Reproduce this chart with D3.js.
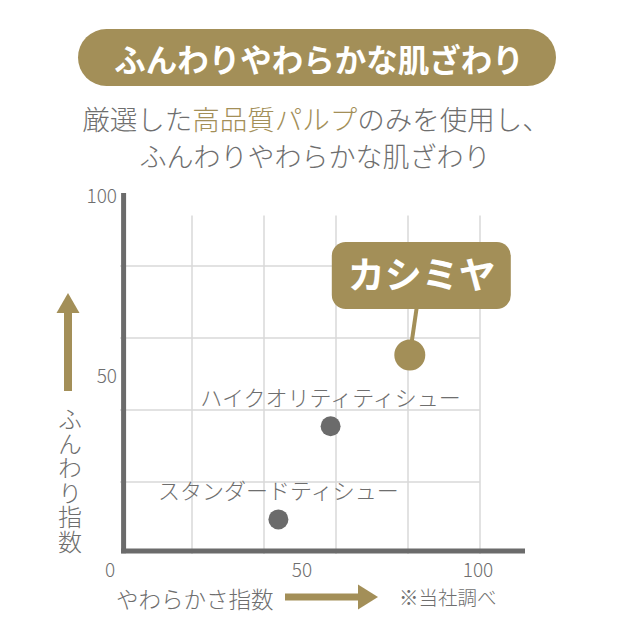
<!DOCTYPE html>
<html><head><meta charset="utf-8">
<script src="https://cdn.jsdelivr.net/npm/d3@7"></script>
<style>html,body{margin:0;padding:0;background:#fff;}svg{display:block;font-family:"Noto Sans CJK JP","Noto Sans",sans-serif;}</style>
</head><body>
<svg id="c" width="640" height="640"></svg>
<script>
const title = "ふんわりやわらかな肌ざわり";
const subtitle1 = [["厳選した", "normal"], ["高品質パルプ", "accent"], ["のみを使用し、", "normal"]];
const subtitle2 = "ふんわりやわらかな肌ざわり";
const xTicks = [0, 50, 100];
const yTicks = [50, 100];
const gridX = [20, 40, 60, 80, 100];
const gridY = [20, 40, 60, 80];
const products = ["カシミヤ", "ハイクオリティティシュー", "スタンダードティシュー"];
const softness = [80.5, 58.5, 44];
const fluffiness = [55.3, 35.5, 9.6];
const highlight = [true, false, false];
const xLabel = "やわらかさ指数";
const yLabel = "ふんわり指数";
const note = "※当社調べ";

const gold = "#a38f58", gray = "#6b6b6b", textGray = "#6e6e6e", gridC = "#d9d9d9";
const svg = d3.select("#c");
const x = d3.scaleLinear().domain([0, 100]).range([120, 480]);
const y = d3.scaleLinear().domain([0, 100]).range([554, 194]);

// Title pill
svg.append("rect").attr("x", 78).attr("y", 29).attr("width", 478).attr("height", 57).attr("rx", 28.5).attr("fill", gold);
svg.append("text").attr("x", 319).attr("y", 72).attr("text-anchor", "middle").attr("fill", "#fff")
  .attr("font-size", 31.5).attr("font-weight", 700).text(title);

// Subtitle
const s1 = svg.append("text").attr("x", 316).attr("y", 130).attr("text-anchor", "middle").attr("font-size", 27.5).attr("font-weight", 300);
subtitle1.forEach(([t, k]) => s1.append("tspan").attr("fill", k === "accent" ? gold : textGray).text(t));
svg.append("text").attr("x", 315).attr("y", 167).attr("text-anchor", "middle").attr("font-size", 27).attr("font-weight", 300).attr("fill", textGray).text(subtitle2);

// Grid
const g = svg.append("g");
g.selectAll("line.gx").data(gridX).join("line").attr("x1", d => x(d)).attr("x2", d => x(d))
  .attr("y1", y(94)).attr("y2", y(0)).attr("stroke", gridC).attr("stroke-width", 1.5);
g.selectAll("line.gy").data(gridY).join("line").attr("y1", d => y(d)).attr("y2", d => y(d))
  .attr("x1", x(0)).attr("x2", x(100)).attr("stroke", gridC).attr("stroke-width", 1.5);

// Axes
svg.append("line").attr("x1", x(1)).attr("x2", x(1)).attr("y1", y(100.3)).attr("y2", y(0.2)).attr("stroke", gray).attr("stroke-width", 5);
svg.append("line").attr("x1", x(0.3)).attr("x2", x(112.5)).attr("y1", y(0.8)).attr("y2", y(0.8)).attr("stroke", gray).attr("stroke-width", 5);

// Tick labels
svg.selectAll("text.xt").data(xTicks).join("text").attr("class", "xt")
  .attr("x", d => x(d) + (d === 0 ? -10 : d === 50 ? 2 : -2)).attr("y", 577).attr("text-anchor", "middle")
  .attr("font-size", 19).attr("font-weight", 300).attr("fill", textGray).text(d => d);
svg.selectAll("text.yt").data(yTicks).join("text").attr("class", "yt")
  .attr("x", 117).attr("y", d => y(d) + 9).attr("text-anchor", "end")
  .attr("font-size", 19).attr("font-weight", 300).attr("fill", textGray).text(d => d);

// Y arrow + label
svg.append("rect").attr("x", 64).attr("y", 311).attr("width", 8).attr("height", 80).attr("fill", gold);
svg.append("path").attr("d", "M56.5,313 L68,293 L79.5,313 Z").attr("fill", gold);
svg.append("text").attr("x", 70).attr("y", 407).attr("writing-mode", "vertical-rl").attr("font-size", 24)
  .attr("font-weight", 300).attr("fill", textGray).style("letter-spacing", "0.5px").text(yLabel);

// X label + arrow + note
svg.append("text").attr("x", 116).attr("y", 608).attr("font-size", 22.5).attr("font-weight", 300).attr("fill", textGray).text(xLabel);
svg.append("rect").attr("x", 285).attr("y", 593.5).attr("width", 75).attr("height", 7).attr("fill", gold);
svg.append("path").attr("d", "M358,584.5 L378,597 L358,609.5 Z").attr("fill", gold);
svg.append("text").attr("x", 399).attr("y", 605).attr("font-size", 19.5).attr("font-weight", 300).attr("fill", textGray).text(note);

// Points
const data = products.map((p, i) => ({ p, sx: softness[i], fy: fluffiness[i], hl: highlight[i] }));
const hl = data.filter(d => d.hl);
hl.forEach(d => {
  const cx = x(d.sx), cy = y(d.fy);
  svg.append("line").attr("x1", cx).attr("y1", cy).attr("x2", cx + 8).attr("y2", 300).attr("stroke", gold).attr("stroke-width", 4);
  svg.append("rect").attr("x", cx - 78).attr("y", 242).attr("width", 179).attr("height", 67).attr("rx", 14).attr("fill", gold);
  svg.append("text").attr("x", cx + 12).attr("y", 289).attr("text-anchor", "middle").attr("fill", "#fff")
    .attr("font-size", 37).attr("font-weight", 700).text(d.p);
});
svg.selectAll("circle.pt").data(data).join("circle").attr("class", "pt")
  .attr("cx", d => x(d.sx)).attr("cy", d => y(d.fy)).attr("r", d => d.hl ? 15.5 : 10)
  .attr("fill", d => d.hl ? gold : gray);
svg.selectAll("text.pl").data(data.filter(d => !d.hl)).join("text").attr("class", "pl")
  .attr("x", d => x(d.sx)).attr("y", d => y(d.fy) - 20).attr("text-anchor", "middle")
  .attr("font-size", 22).attr("font-weight", 300).attr("fill", textGray).text(d => d.p);
</script>
</body></html>
